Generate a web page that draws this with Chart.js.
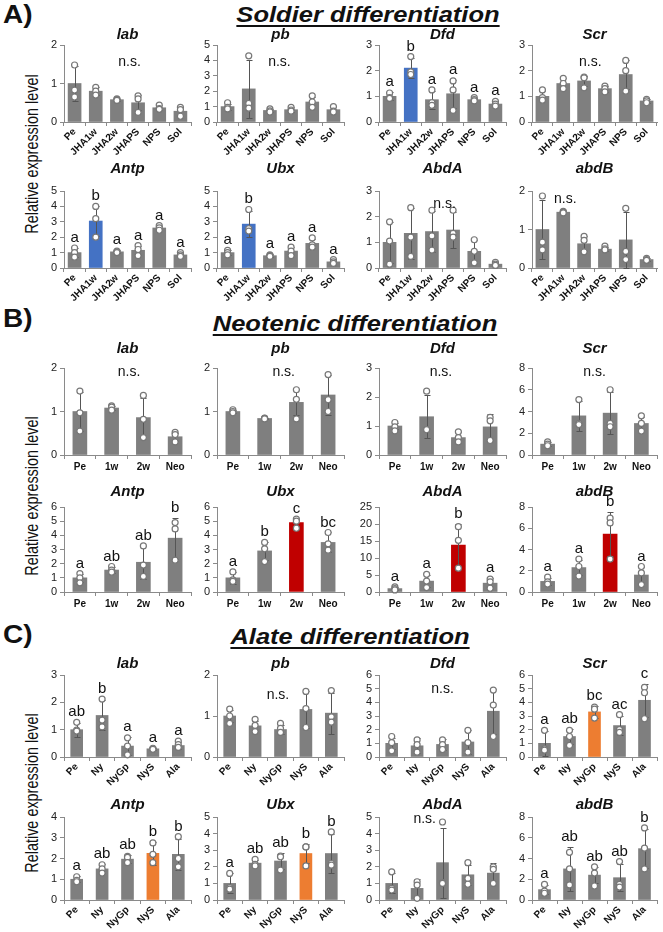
<!DOCTYPE html>
<html><head><meta charset="utf-8">
<script src="https://cdn.jsdelivr.net/npm/chart.js@4.4.1/dist/chart.umd.min.js"></script>
<style>
body{margin:0;background:#fff;width:663px;height:932px;position:relative;overflow:hidden;font-family:"Liberation Sans",Arial,sans-serif;color:#111}
.t{position:absolute;white-space:nowrap;line-height:1}
.sec{font-weight:bold;font-style:italic;font-size:22px;text-decoration:underline;text-decoration-thickness:2px;text-underline-offset:3px;transform:translate(-50%,-50%) scaleX(1.16)}
.lbl{font-weight:bold;font-size:25px;transform-origin:0 0;transform:scaleX(1.12)}
.gene{font-weight:bold;font-style:italic;font-size:15px;transform:translate(-50%,-50%)}
.ylab{font-size:18px;transform:translate(-50%,-50%) rotate(-90deg) scaleX(0.8)}
canvas{position:absolute}
</style></head><body>
<script>
// ---------------- DATA ----------------
const catsA = ['Pe','JHA1w','JHA2w','JHAPS','NPS','Sol'];
const catsB = ['Pe','1w','2w','Neo'];
const catsC = ['Pe','Ny','NyGp','NyS','Ala'];
const genes = ['lab','pb','Dfd','Scr','Antp','Ubx','AbdA','abdB'];

// y axis maxima / steps (tick labels) per gene, in the order of `genes`
const A_yMax = [2,5,3,3,5,5,3,2],   A_yStep = [1,1,1,1,1,1,1,1];
const B_yMax = [2,2,3,8,6,6,25,8],  B_yStep = [1,1,1,2,1,1,5,2];
const C_yMax = [3,2,6,6,4,5,5,8],   C_yStep = [1,1,1,1,1,1,1,2];

// A) Soldier differentiation
const A_lab_mean = [1.0,0.8,0.58,0.5,0.37,0.28];
const A_lab_sd   = [0.45,0.1,0.03,0.2,0.07,0.12];
const A_lab_rep  = [[1.48,0.83,0.65],[0.9,0.8,0.7],[0.6,0.58,0.56],[0.68,0.6,0.25],[0.44,0.35,0.33],[0.38,0.32,0.15]];
const A_lab_sig  = 'n.s.';
const A_pb_mean  = [1.0,2.15,0.75,0.8,1.3,0.8];
const A_pb_sd    = [0.2,1.9,0.1,0.15,0.35,0.2];
const A_pb_rep   = [[1.25,0.95,0.85],[4.3,1.2,0.9],[0.85,0.72,0.65],[0.95,0.78,0.7],[1.7,1.3,0.95],[1.0,0.7,0.65]];
const A_pb_sig   = 'n.s.';
const A_Dfd_mean = [1.0,2.1,0.87,1.1,0.87,0.7];
const A_Dfd_sd   = [0.15,0.4,0.35,0.55,0.07,0.12];
const A_Dfd_rep  = [[1.13,0.95,0.92],[2.55,1.95,1.85],[1.25,0.75,0.65],[1.6,1.25,0.45],[0.95,0.87,0.82],[0.8,0.7,0.62]];
const A_Dfd_sig  = ['a','b','a','a','a','a'];
const A_Scr_mean = [1.0,1.5,1.6,1.3,1.85,0.82];
const A_Scr_sd   = [0.2,0.22,0.2,0.12,0.55,0.07];
const A_Scr_rep  = [[1.25,0.95,0.85],[1.7,1.5,1.3],[1.75,1.72,1.33],[1.4,1.3,1.17],[2.4,2.0,1.2],[0.88,0.82,0.75]];
const A_Scr_sig  = 'n.s.';
const A_Antp_mean = [1.0,3.05,1.05,1.15,2.6,0.85];
const A_Antp_sd   = [0.28,1.0,0.1,0.3,0.15,0.12];
const A_Antp_rep  = [[1.3,1.0,0.7],[4.0,3.2,2.0],[1.1,1.05,1.0],[1.45,1.2,0.8],[2.75,2.6,2.45],[1.0,0.85,0.75]];
const A_Antp_sig  = ['a','b','a','a','a','a'];
const A_Ubx_mean = [1.0,2.85,0.8,1.1,1.6,0.4];
const A_Ubx_sd   = [0.15,0.85,0.08,0.25,0.3,0.15];
const A_Ubx_rep  = [[1.15,1.0,0.85],[3.8,2.55,2.4],[0.85,0.8,0.75],[1.35,1.1,0.8],[1.95,1.5,1.35],[0.55,0.4,0.3]];
const A_Ubx_sig  = ['a','b','a','a','a','a'];
const A_AbdA_mean = [1.0,1.35,1.42,1.48,0.65,0.15];
const A_AbdA_sd   = [0.8,1.0,0.8,0.7,0.45,0.08];
const A_AbdA_rep  = [[1.8,1.05,0.15],[2.35,1.2,0.45],[2.25,1.25,0.7],[2.25,1.35,1.2],[1.1,0.65,0.2],[0.22,0.15,0.1]];
const A_AbdA_sig  = 'n.s.';
const A_abdB_mean = [1.0,1.45,0.63,0.49,0.73,0.22];
const A_abdB_sd   = [0.77,0.03,0.2,0.06,0.72,0.03];
const A_abdB_rep  = [[1.87,0.67,0.47],[1.47,1.45,1.43],[0.82,0.72,0.42],[0.57,0.5,0.47],[1.55,0.43,0.22],[0.25,0.22,0.2]];
const A_abdB_sig  = 'n.s.';

// B) Neotenic differentiation
const B_lab_mean = [1.0,1.08,0.86,0.42];
const B_lab_sd   = [0.45,0.05,0.45,0.09];
const B_lab_rep  = [[1.47,0.97,0.55],[1.13,1.1,1.03],[1.37,0.82,0.4],[0.52,0.47,0.3]];
const B_lab_sig  = 'n.s.';
const B_pb_mean  = [1.0,0.84,1.21,1.38];
const B_pb_sd    = [0.04,0.02,0.3,0.45];
const B_pb_rep   = [[1.04,1.0,0.97],[0.85,0.84,0.83],[1.5,1.28,0.83],[1.85,1.27,1.0]];
const B_pb_sig   = 'n.s.';
const B_Dfd_mean = [1.0,1.32,0.6,0.97];
const B_Dfd_sd   = [0.12,0.75,0.18,0.45];
const B_Dfd_rep  = [[1.12,0.97,0.83],[2.2,0.88,0.87],[0.8,0.6,0.45],[1.3,1.18,0.5]];
const B_Dfd_sig  = 'n.s.';
const B_Scr_mean = [1.0,3.6,3.85,2.9];
const B_Scr_sd   = [0.15,1.35,1.9,0.6];
const B_Scr_rep  = [[1.2,1.0,0.85],[5.1,2.9,2.8],[6.0,2.9,2.6],[3.6,2.9,2.2]];
const B_Scr_sig  = 'n.s.';
const B_Antp_mean = [1.0,1.55,2.1,3.8];
const B_Antp_sd   = [0.3,0.2,1.15,1.45];
const B_Antp_rep  = [[1.3,1.0,0.65],[1.8,1.55,1.4],[3.25,1.9,1.1],[4.9,4.45,2.25]];
const B_Antp_sig  = ['a','ab','ab','b'];
const B_Ubx_mean = [1.0,2.9,4.9,3.5];
const B_Ubx_sd   = [0.4,0.65,0.25,0.7];
const B_Ubx_rep  = [[1.42,0.85,0.75],[3.5,3.05,2.15],[5.15,5.0,4.5],[4.2,3.4,2.95]];
const B_Ubx_sig  = ['a','b','c','bc'];
const B_AbdA_mean = [1.0,3.2,13.8,2.6];
const B_AbdA_sd   = [0.4,1.8,6.3,1.5];
const B_AbdA_rep  = [[1.5,1.0,0.6],[5.2,3.2,1.3],[19.2,15.2,7.0],[3.8,3.0,1.1]];
const B_AbdA_sig  = ['a','a','b','a'];
const B_abdB_mean = [1.0,2.3,5.45,1.6];
const B_abdB_sd   = [0.3,0.7,2.05,0.75];
const B_abdB_rep  = [[1.4,0.95,0.75],[3.1,2.4,1.5],[6.95,6.5,3.1],[2.4,1.8,0.7]];
const B_abdB_sig  = ['a','a','b','a'];

// C) Alate differentiation
const C_lab_mean = [1.0,1.52,0.4,0.3,0.42];
const C_lab_sd   = [0.25,0.55,0.33,0.03,0.12];
const C_lab_rep  = [[1.27,0.98,0.95],[2.12,1.35,1.1],[0.7,0.4,0.08],[0.32,0.3,0.28],[0.58,0.45,0.35]];
const C_lab_sig  = ['ab','b','a','a','a'];
const C_pb_mean  = [1.0,0.76,0.67,1.16,1.07];
const C_pb_sd    = [0.15,0.13,0.12,0.45,0.5];
const C_pb_rep   = [[1.17,1.0,0.82],[0.92,0.77,0.62],[0.82,0.7,0.6],[1.6,1.18,0.72],[1.62,0.98,0.85]];
const C_pb_sig   = 'n.s.';
const C_Dfd_mean = [1.0,0.82,0.92,1.1,3.35];
const C_Dfd_sd   = [0.42,0.55,0.38,0.85,1.65];
const C_Dfd_rep  = [[1.5,1.05,0.45],[1.25,0.9,0.35],[1.25,0.9,0.55],[1.95,1.05,0.35],[4.9,3.8,1.5]];
const C_Dfd_sig  = 'n.s.';
const C_Scr_mean = [1.0,1.5,3.3,2.3,4.15];
const C_Scr_sd   = [0.9,0.55,0.45,0.7,1.2];
const C_Scr_rep  = [[1.95,0.6,0.5],[1.95,1.5,0.85],[3.65,3.5,2.85],[3.1,2.0,1.8],[5.1,4.7,2.8]];
const C_Scr_sig  = ['a','ab','bc','ac','c'];
const C_Antp_mean = [1.0,1.5,1.97,2.25,2.2];
const C_Antp_sd   = [0.15,0.22,0.2,0.55,0.75];
const C_Antp_rep  = [[1.12,0.95,0.88],[1.7,1.5,1.3],[2.1,2.05,1.8],[2.75,2.2,1.8],[3.05,2.0,1.6]];
const C_Antp_sig  = ['a','ab','ab','b','b'];
const C_Ubx_mean = [1.0,2.22,2.35,2.8,2.8];
const C_Ubx_sd   = [0.6,0.2,0.5,0.6,1.15];
const C_Ubx_rep  = [[1.6,0.75,0.65],[2.45,2.15,2.05],[2.65,2.6,1.8],[3.2,3.2,2.05],[4.1,2.2,2.1]];
const C_Ubx_sig  = ['a','ab','ab','b','b'];
const C_AbdA_mean = [1.0,0.7,2.25,1.52,1.62];
const C_AbdA_sd   = [0.6,0.55,2.1,0.6,0.6];
const C_AbdA_rep  = [[1.7,0.7,0.6],[1.1,0.9,0.1],[4.7,1.05,1.0],[2.25,1.3,0.95],[2.0,1.85,1.0]];
const C_AbdA_sig  = 'n.s.';
const C_abdB_mean = [1.0,3.0,2.4,2.15,4.95];
const C_abdB_sd   = [0.4,2.1,0.8,1.3,1.9];
const C_abdB_rep  = [[1.5,0.85,0.65],[4.6,3.0,1.45],[3.2,2.6,1.35],[3.7,1.5,1.25],[6.95,5.0,3.0]];
const C_abdB_sig  = ['a','ab','ab','ab','b'];

// ---------------- TABLE built from the arrays ----------------
const DATA = {
  A_lab:[A_lab_mean,A_lab_sd,A_lab_rep,A_lab_sig], A_pb:[A_pb_mean,A_pb_sd,A_pb_rep,A_pb_sig],
  A_Dfd:[A_Dfd_mean,A_Dfd_sd,A_Dfd_rep,A_Dfd_sig], A_Scr:[A_Scr_mean,A_Scr_sd,A_Scr_rep,A_Scr_sig],
  A_Antp:[A_Antp_mean,A_Antp_sd,A_Antp_rep,A_Antp_sig], A_Ubx:[A_Ubx_mean,A_Ubx_sd,A_Ubx_rep,A_Ubx_sig],
  A_AbdA:[A_AbdA_mean,A_AbdA_sd,A_AbdA_rep,A_AbdA_sig], A_abdB:[A_abdB_mean,A_abdB_sd,A_abdB_rep,A_abdB_sig],
  B_lab:[B_lab_mean,B_lab_sd,B_lab_rep,B_lab_sig], B_pb:[B_pb_mean,B_pb_sd,B_pb_rep,B_pb_sig],
  B_Dfd:[B_Dfd_mean,B_Dfd_sd,B_Dfd_rep,B_Dfd_sig], B_Scr:[B_Scr_mean,B_Scr_sd,B_Scr_rep,B_Scr_sig],
  B_Antp:[B_Antp_mean,B_Antp_sd,B_Antp_rep,B_Antp_sig], B_Ubx:[B_Ubx_mean,B_Ubx_sd,B_Ubx_rep,B_Ubx_sig],
  B_AbdA:[B_AbdA_mean,B_AbdA_sd,B_AbdA_rep,B_AbdA_sig], B_abdB:[B_abdB_mean,B_abdB_sd,B_abdB_rep,B_abdB_sig],
  C_lab:[C_lab_mean,C_lab_sd,C_lab_rep,C_lab_sig], C_pb:[C_pb_mean,C_pb_sd,C_pb_rep,C_pb_sig],
  C_Dfd:[C_Dfd_mean,C_Dfd_sd,C_Dfd_rep,C_Dfd_sig], C_Scr:[C_Scr_mean,C_Scr_sd,C_Scr_rep,C_Scr_sig],
  C_Antp:[C_Antp_mean,C_Antp_sd,C_Antp_rep,C_Antp_sig], C_Ubx:[C_Ubx_mean,C_Ubx_sd,C_Ubx_rep,C_Ubx_sig],
  C_AbdA:[C_AbdA_mean,C_AbdA_sd,C_AbdA_rep,C_AbdA_sig], C_abdB:[C_abdB_mean,C_abdB_sd,C_abdB_rep,C_abdB_sig]
};
const SECTIONS = {
  A:{cats:catsA, yMax:A_yMax, yStep:A_yStep, title:'Soldier differentiation'},
  B:{cats:catsB, yMax:B_yMax, yStep:B_yStep, title:'Neotenic differentiation'},
  C:{cats:catsC, yMax:C_yMax, yStep:C_yStep, title:'Alate differentiation'}
};

// ---------------- LAYOUT / STYLE ----------------
const FONT = '"Liberation Sans", Arial, sans-serif';
const BAR_GRAY = '#7f7f7f', AXIS = '#8a8a8a';
const HILITE = { A_Dfd:[1,'#4472C4'], A_Antp:[1,'#4472C4'], A_Ubx:[1,'#4472C4'],
  B_Ubx:[2,'#C00000'], B_AbdA:[2,'#C00000'], B_abdB:[2,'#C00000'],
  C_Scr:[2,'#ED7D31'], C_Antp:[3,'#ED7D31'], C_Ubx:[3,'#ED7D31'] };
const NS_POS = { A_lab:[2.6,1.56], A_pb:[2.45,3.9], A_Scr:[2.3,2.35], A_AbdA:[2.6,2.5], A_abdB:[1.1,1.8],
  B_lab:[1.55,1.9], B_pb:[1.6,1.9], B_Dfd:[1.45,2.85], B_Scr:[1.5,7.6],
  C_pb:[1.9,1.5], C_Dfd:[2.0,4.95], C_AbdA:[1.3,4.9] };
const COLX = [64, 217, 379, 532];
const PLOTW = [127, 127, 127, 125];
const ROWS = { A:[[45,122],[191,268]], B:[[368,455],[507,592]], C:[[675,757],[817,900]] };
const XLAB_H = { A:40, B:20, C:32 };
const ROT = { A:45, B:0, C:45 };
const BAR_T = { A:13, B:14, C:12 };
const GENE_Y = { A:[33,167], B:[347,490], C:[662,803] };
const SEC_POS = { A:[368,15], B:[355,324], C:[350,637] };
const LBL_POS = { A:[3,2], B:[3,306], C:[3,622] };
const YLAB_POS = { A:[32,154], B:[32,496], C:[32,793] };

function addText(cls, txt, x, y){
  const d = document.createElement('div');
  d.className = 't ' + cls; d.textContent = txt;
  d.style.left = x + 'px'; d.style.top = y + 'px';
  document.body.appendChild(d);
}

const PMAP = new Map();
const deco = {
  id:'deco',
  afterDatasetDraw(chart, args){
    if (args.index !== 0) return;
    const p = PMAP.get(chart.canvas), ctx = chart.ctx, ys = chart.scales.y;
    ctx.save(); ctx.strokeStyle = '#555'; ctx.lineWidth = 1;
    args.meta.data.forEach((bar, i) => {
      const m = p.mean[i], s = p.sd[i];
      const x = Math.round(bar.x) + 0.5;
      const y1 = Math.round(ys.getPixelForValue(m + s)) + 0.5;
      const y0 = Math.round(ys.getPixelForValue(Math.max(0, m - s))) + 0.5;
      ctx.beginPath();
      ctx.moveTo(x, y0); ctx.lineTo(x, y1);
      ctx.moveTo(x - 3, y1); ctx.lineTo(x + 3, y1);
      ctx.moveTo(x - 3, y0); ctx.lineTo(x + 3, y0);
      ctx.stroke();
    });
    ctx.restore();
  },
  afterDatasetsDraw(chart){
    const p = PMAP.get(chart.canvas), ctx = chart.ctx, ys = chart.scales.y, xs = chart.scales.x;
    ctx.save(); ctx.fillStyle = '#111'; ctx.textAlign = 'center';
    if (Array.isArray(p.sig)) {
      ctx.font = '15px ' + FONT; ctx.textBaseline = 'alphabetic';
      p.sig.forEach((s, i) => {
        const topV = Math.max(p.mean[i] + p.sd[i], ...p.rep[i]);
        ctx.fillText(s, xs.getPixelForValue(i), ys.getPixelForValue(topV) - 6);
      });
    } else {
      const pos = NS_POS[p.key];
      ctx.font = '14px ' + FONT; ctx.textBaseline = 'middle';
      ctx.fillText(p.sig, xs.getPixelForValue(pos[0]), ys.getPixelForValue(pos[1]));
    }
    ctx.restore();
  }
};

function makePanel(sec, k){
  const S = SECTIONS[sec], gene = genes[k], key = sec + '_' + gene;
  const [mean, sd, rep, sig] = DATA[key];
  const cats = S.cats;
  const row = k >> 2, col = k & 3;
  const ax = COLX[col], w = PLOTW[col];
  const [top, bottom] = ROWS[sec][row];
  const padTop = 16, yW = 30, padR = 6, xh = XLAB_H[sec];
  const cw = yW + w + padR, ch = padTop + (bottom - top) + xh;
  const cv = document.createElement('canvas');
  cv.width = cw; cv.height = ch;
  cv.style.left = (ax - yW) + 'px'; cv.style.top = (top - padTop) + 'px';
  cv.style.width = cw + 'px'; cv.style.height = ch + 'px';
  document.body.appendChild(cv);
  PMAP.set(cv, {key, mean, sd, rep, sig});
  addText('gene', gene, ax + w / 2, GENE_Y[sec][row]);

  const hi = HILITE[key];
  const colors = mean.map((_, i) => (hi && hi[0] === i) ? hi[1] : BAR_GRAY);
  const pts = [];
  rep.forEach((arr, i) => arr.forEach(v => pts.push({x: cats[i], y: v})));
  const rot = ROT[sec];
  new Chart(cv, {
    type: 'bar',
    data: { labels: cats, datasets: [
      { type:'bar', data: mean, backgroundColor: colors, borderWidth: 0, barThickness: BAR_T[sec], order: 2 },
      { type:'line', data: pts, showLine: false, pointRadius: 3, pointHoverRadius: 3,
        pointBackgroundColor: '#fff', pointBorderColor: '#777', pointBorderWidth: 1.2, clip: false, order: 1 }
    ]},
    options: {
      responsive: false, animation: false, devicePixelRatio: 1,
      layout: { padding: { top: padTop, right: padR, left: 0, bottom: 0 } },
      plugins: { legend: { display: false }, tooltip: { enabled: false } },
      scales: {
        x: { type: 'category', offset: true,
          grid: { offset: true, drawOnChartArea: false, drawTicks: true, tickLength: 4, color: AXIS },
          border: { color: AXIS, width: 1 },
          ticks: { autoSkip: false, minRotation: rot, maxRotation: rot, padding: rot ? 0 : 2, color: '#111',
                   font: { family: FONT, size: 10, weight: 'bold' } },
          afterFit(s){ s.height = xh; } },
        y: { min: 0, max: S.yMax[k],
          ticks: { stepSize: S.yStep[k], autoSkip: false, maxTicksLimit: 20, padding: 3, color: '#222', font: { family: FONT, size: 11 } },
          grid: { drawOnChartArea: false, drawTicks: true, tickLength: 4, color: AXIS },
          border: { color: AXIS, width: 1 },
          afterFit(s){ s.width = yW; } }
      }
    },
    plugins: [deco]
  });
}

['A','B','C'].forEach(sec => {
  addText('lbl', sec + ')', LBL_POS[sec][0], LBL_POS[sec][1]);
  addText('sec', SECTIONS[sec].title, SEC_POS[sec][0], SEC_POS[sec][1]);
  addText('ylab', 'Relative expression level', YLAB_POS[sec][0], YLAB_POS[sec][1]);
  for (let k = 0; k < 8; k++) makePanel(sec, k);
});
</script>
</body></html>
